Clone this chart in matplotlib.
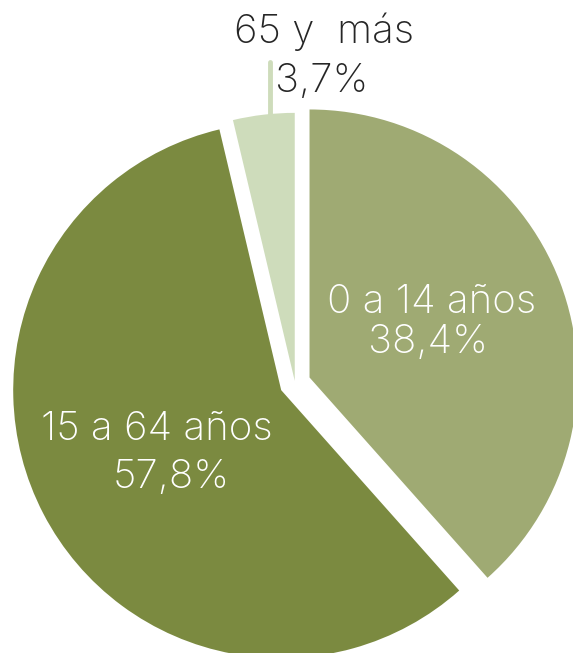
import numpy as np
import matplotlib
matplotlib.use("Agg")
import matplotlib.pyplot as plt

# age groups share
labels = ["0 a 14 años", "15 a 64 años", "65 y  más"]
values = [38.4, 57.8, 3.7]
pct_labels = ["38,4%", "57,8%", "3,7%"]
colors = ["#9faa73", "#7b8a40", "#cedcbb"]
explode = [0.058, 0.058, 0.008]

plt.rcParams["font.family"] = ["Inter", "DejaVu Sans"]

# original picture: pie radius 268 px, centre at (295, 383)
R_PX, CX, CY = 268, 295, 383


def px(x, y):
    """pixel position of the original picture -> data coords"""
    return (x - CX) / R_PX, (CY - y) / R_PX


fig = plt.figure(figsize=(5.73, 6.53), dpi=100)
ax = fig.add_axes([0, 0, 1, 1])

wedges, _ = ax.pie(values, colors=colors, explode=explode, startangle=90,
                   counterclock=False, radius=1.0,
                   wedgeprops=dict(linewidth=0))

x0, y1 = px(0, 0)
x1, y0 = px(573, 653)
ax.set_xlim(x0, x1)
ax.set_ylim(y0, y1)
ax.set_aspect("equal")
ax.axis("off")

fs = 29
style = dict(fontsize=fs, fontweight="light", ha="center", va="baseline")

ax.text(*px(432, 313), labels[0], color="white", **style)
ax.text(*px(428, 353), pct_labels[0], color="white", **style)
ax.text(*px(157, 440), labels[1], color="white", **style)
ax.text(*px(171, 488), pct_labels[1], color="white", **style)

# small slice label above the pie with leader line
ax.text(*px(324, 43), labels[2], color="#262626", **style)
ax.text(*px(322, 92), pct_labels[2], color="#262626", **style)
lx, ly0 = px(270, 62)
_, ly1 = px(270, 116)
ax.plot([lx, lx], [ly0, ly1], color=colors[2], lw=3.5, solid_capstyle="round")

fig.savefig("out.png", dpi=100)
